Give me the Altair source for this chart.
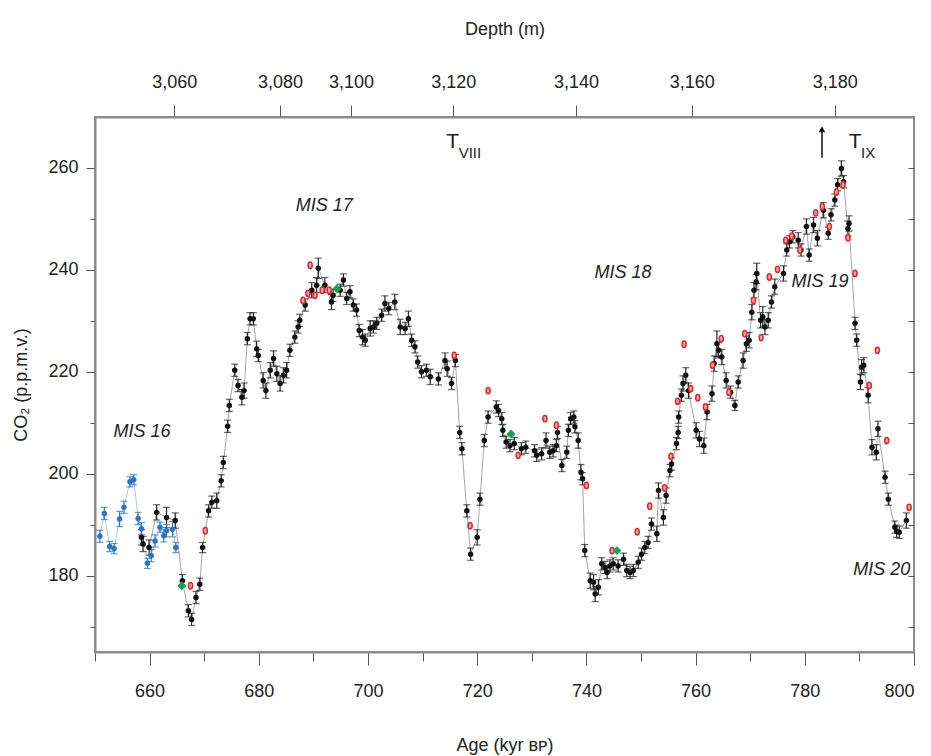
import altair as alt
import pandas as pd

# ---------------- data ----------------
# black: main CO2 record (age kyr BP, CO2 ppmv, 1-sigma)
black_points = [
    (658.5, 187.5, 1.5), (658.8, 186.2, 1.5), (659.9, 185.5, 1.5), (661.3, 192.4, 1.5),
    (663.1, 191.4, 2.0), (664.7, 190.8, 1.5), (666.0, 179.0, 1.2), (667.1, 173.1, 1.2),
    (667.7, 171.4, 1.2), (668.5, 175.7, 1.2), (669.2, 178.3, 1.2), (669.7, 185.5, 1.0),
    (670.8, 192.7, 1.2), (671.4, 194.4, 1.2), (672.3, 194.7, 1.5), (673.1, 198.6, 1.2),
    (673.5, 202.2, 1.2), (674.3, 209.3, 1.2), (674.6, 213.4, 1.2), (675.6, 220.3, 1.2),
    (676.2, 217.3, 1.2), (676.9, 215.0, 1.5), (677.3, 216.3, 1.5), (677.9, 226.5, 1.2),
    (678.4, 230.4, 1.2), (679.0, 230.4, 1.2), (679.6, 224.5, 1.5), (679.9, 223.2, 1.2),
    (680.8, 218.3, 1.5), (681.3, 216.3, 1.5), (682.1, 220.3, 1.5), (682.7, 222.6, 1.5),
    (683.3, 219.6, 1.5), (683.9, 217.7, 1.5), (684.5, 219.3, 1.5), (685.1, 220.3, 1.5),
    (685.7, 224.2, 1.2), (686.6, 226.8, 1.2), (687.2, 228.8, 1.2), (687.5, 230.1, 1.2),
    (688.5, 233.1, 1.2), (689.7, 236.0, 1.5), (690.6, 237.0, 1.5), (690.9, 240.3, 2.0),
    (692.1, 237.0, 1.5), (693.3, 233.7, 1.5), (693.6, 235.0, 1.2), (694.9, 236.0, 1.2),
    (695.5, 238.0, 1.2), (696.1, 234.4, 1.2), (696.7, 235.7, 1.2), (697.3, 233.1, 1.2),
    (697.9, 232.1, 1.2), (698.4, 228.1, 1.2), (699.0, 226.8, 1.5), (699.5, 226.2, 1.2),
    (700.4, 228.5, 1.5), (701.0, 228.8, 1.2), (701.6, 229.5, 1.2), (702.5, 231.1, 1.2),
    (703.1, 233.4, 1.5), (703.8, 232.4, 1.2), (704.9, 233.7, 1.5), (705.9, 228.8, 1.5),
    (706.8, 228.5, 1.2), (707.4, 230.4, 1.5), (708.0, 226.2, 1.2), (708.6, 224.9, 1.2),
    (709.1, 221.9, 1.2), (709.8, 220.0, 1.2), (710.7, 220.3, 1.2), (711.4, 219.0, 1.5),
    (712.9, 218.6, 1.2), (714.1, 222.2, 1.5), (714.5, 220.6, 1.5), (715.3, 217.7, 1.2),
    (716.0, 222.2, 1.2), (716.8, 208.1, 1.2), (717.2, 204.9, 1.2), (718.1, 192.7, 1.2),
    (718.8, 184.2, 1.2), (720.0, 187.5, 1.5), (720.5, 195.0, 1.2), (721.3, 206.5, 1.2),
    (722.0, 211.1, 1.2), (723.5, 213.1, 1.2), (723.9, 212.4, 1.2), (724.5, 210.8, 1.2),
    (724.7, 208.5, 1.2), (725.3, 206.2, 1.2), (726.0, 205.5, 1.2), (726.8, 205.9, 1.2),
    (728.1, 204.9, 1.2), (728.9, 205.2, 1.2), (730.5, 204.5, 1.2), (730.9, 203.6, 1.2),
    (731.8, 203.9, 1.2), (732.6, 206.5, 1.5), (733.3, 204.2, 1.2), (733.9, 204.5, 1.2),
    (734.5, 205.5, 1.2), (734.7, 208.1, 1.2), (735.5, 201.6, 1.2), (736.4, 204.2, 1.2),
    (736.7, 208.5, 1.2), (737.1, 210.8, 1.2), (737.7, 211.1, 1.2), (737.9, 209.2, 1.2),
    (738.5, 206.5, 1.5), (739.0, 200.3, 1.5), (739.3, 199.0, 1.2), (739.7, 184.9, 1.2),
    (740.7, 179.0, 1.5), (741.3, 178.7, 1.5), (741.6, 176.4, 1.5), (742.2, 177.7, 1.5),
    (742.8, 182.3, 1.2), (743.4, 181.6, 1.2), (743.8, 180.6, 1.2), (744.3, 181.9, 1.2),
    (744.9, 182.3, 1.2), (745.8, 181.9, 1.2), (746.8, 183.2, 1.2), (747.4, 181.0, 1.2),
    (748.0, 180.6, 1.2), (748.6, 181.0, 1.2), (749.5, 182.6, 1.2), (750.1, 184.2, 1.2),
    (750.7, 185.5, 1.2), (751.3, 186.5, 1.2), (751.9, 190.1, 1.2), (752.9, 188.2, 1.5),
    (753.2, 196.7, 1.5), (754.1, 191.4, 1.5), (754.6, 195.7, 1.5), (755.3, 200.6, 1.2),
    (755.6, 201.9, 1.2), (756.5, 205.9, 1.2), (756.8, 208.1, 1.2), (756.9, 211.1, 1.2),
    (757.4, 215.4, 1.2), (757.7, 217.7, 1.5), (758.2, 219.3, 1.5), (758.7, 216.3, 1.5),
    (760.1, 208.5, 1.5), (760.7, 206.8, 1.5), (761.5, 205.5, 1.5), (762.1, 212.1, 1.5),
    (763.0, 215.7, 1.5), (763.4, 221.6, 1.5), (763.9, 225.5, 2.5), (764.2, 224.2, 1.5),
    (764.8, 222.9, 1.5), (765.6, 218.3, 1.5), (766.4, 216.0, 1.2), (767.2, 213.4, 1.0),
    (767.8, 218.0, 1.2), (768.7, 222.2, 1.5), (769.3, 225.5, 1.5), (769.8, 226.2, 1.5),
    (770.3, 231.7, 1.5), (770.7, 236.0, 1.5), (771.1, 237.6, 1.5), (771.2, 239.3, 2.0),
    (771.9, 230.1, 1.5), (772.3, 230.8, 2.0), (772.7, 228.8, 1.5), (773.3, 230.1, 1.5),
    (773.9, 233.7, 1.2), (774.5, 236.7, 1.5), (776.1, 239.3, 1.5), (776.7, 243.9, 1.2),
    (777.2, 245.5, 1.2), (777.8, 246.5, 1.2), (778.8, 245.8, 1.5), (779.3, 243.9, 1.2),
    (780.3, 248.5, 1.5), (780.8, 242.9, 1.2), (781.6, 248.8, 1.5), (782.3, 246.2, 1.5),
    (783.4, 251.7, 1.5), (784.3, 247.2, 1.2), (784.8, 250.8, 1.2), (785.5, 253.7, 1.2),
    (786.0, 256.7, 1.2), (786.7, 259.9, 1.5), (787.1, 257.3, 1.2), (787.9, 248.1, 1.5),
    (788.1, 249.1, 1.5), (789.2, 229.5, 1.2), (789.5, 226.2, 1.2), (790.2, 218.0, 1.5),
    (790.4, 220.9, 1.5), (790.8, 221.3, 1.5), (791.6, 215.4, 1.5), (792.3, 205.2, 1.5),
    (793.1, 204.2, 1.5), (793.4, 208.8, 1.5), (794.7, 199.3, 1.2), (795.3, 195.0, 1.2),
    (796.5, 189.5, 1.2), (796.8, 188.7, 1.2), (797.3, 188.5, 1.2), (798.6, 190.8, 1.5),
]

# blue: earlier measurements (MIS 16)
blue_points = [
    (650.9, 187.7, 1.2), (651.7, 192.2, 1.2), (652.7, 185.7, 1.0), (653.5, 185.3, 1.0),
    (654.5, 191.1, 1.5), (655.3, 193.4, 1.2), (656.4, 198.4, 1.0), (657.1, 198.8, 1.0),
    (657.9, 191.2, 1.2), (658.5, 189.2, 1.2), (659.6, 182.4, 1.0), (660.3, 183.9, 1.2),
    (661.0, 186.8, 1.2), (661.9, 189.5, 1.0), (662.6, 187.8, 1.2), (663.1, 188.8, 1.2),
    (664.2, 189.1, 1.5), (664.8, 185.5, 1.0),
]

# red: other lab measurements
red_points = [
    (667.5, 178.0), (670.2, 188.8), (688.1, 234.0), (689.0, 235.4), (689.4, 240.9),
    (690.3, 235.0), (691.6, 236.0), (692.9, 236.0), (715.8, 223.2), (718.7, 189.8),
    (722.0, 216.3), (727.5, 203.6), (732.4, 210.8), (734.5, 209.5), (740.0, 197.7),
    (744.7, 184.9), (749.3, 188.6), (751.6, 193.6), (754.3, 197.2), (755.5, 203.4),
    (756.7, 214.2), (757.9, 225.4), (759.1, 216.7), (760.4, 214.9), (761.8, 213.1),
    (763.1, 221.3), (764.7, 226.5), (766.1, 216.0), (769.0, 227.5), (770.6, 234.0),
    (772.0, 226.7), (773.5, 238.6), (775.0, 240.1), (776.5, 245.8), (777.6, 246.6),
    (779.1, 243.9), (782.0, 251.2), (783.2, 252.4), (784.5, 248.5), (785.8, 255.3),
    (787.0, 256.7), (787.9, 246.3), (789.2, 239.3), (791.8, 217.3), (793.3, 224.2),
    (795.0, 206.5), (799.1, 193.4),
]

# green diamonds
green_points = [(665.9, 178.0), (694.3, 236.3), (726.2, 207.8), (745.6, 184.9)]

# annotations
mis_labels = ["MIS 16", "MIS 17", "MIS 18", "MIS 19", "MIS 20"]
mis_age = [658.6, 692.0, 746.7, 782.8, 794.1]
mis_co2 = [208.1, 252.5, 239.4, 237.6, 181.0]

term_main = ["T", "T"]
term_sub = ["VIII", "IX"]
term_age = [715.5, 789.2]
term_co2 = [265.1, 265.1]

arrow_age = 783.15
arrow_co2 = [262.0, 267.6]

# depth axis (top): depth labels and the age at which each sits
depth_labels = ["3,060", "3,080", "3,100", "3,120", "3,140", "3,160", "3,180"]
depth_age = [664.5, 683.9, 696.9, 715.6, 738.1, 759.3, 785.5]

x_domain = [650, 800]
y_domain = [165, 270]

# ---------------- frames ----------------
def frame(points, cols):
    return pd.DataFrame(points, columns=cols)

blk = frame(black_points, ["age", "co2", "err"])
blk["lo"] = blk.co2 - blk.err
blk["hi"] = blk.co2 + blk.err
blu = frame(blue_points, ["age", "co2", "err"])
blu["lo"] = blu.co2 - blu.err
blu["hi"] = blu.co2 + blu.err
red = frame(red_points, ["age", "co2"])
grn = frame(green_points, ["age", "co2"])
mis = pd.DataFrame({"label": mis_labels, "age": mis_age, "co2": mis_co2})
term = pd.DataFrame({"main": term_main, "sub": term_sub, "age": term_age, "co2": term_co2})
arrow = pd.DataFrame({"age": [arrow_age], "y0": [arrow_co2[0]], "y1": [arrow_co2[1]]})
depth = pd.DataFrame({"age": depth_age, "label": depth_labels})

FONT = "Liberation Sans, Arial, sans-serif"
AXC = "#8c8c8c"
TICKC = "#555555"

xs = alt.Scale(domain=x_domain, nice=False, zero=False)
ys = alt.Scale(domain=y_domain, nice=False, zero=False)

x_axis = alt.Axis(
    values=list(range(650, 801, 10)),
    labelExpr="datum.value % 20 == 0 && datum.value > 650 ? datum.label : ''",
    tickSize={"condition": {"test": "datum.value % 20 == 0", "value": 13}, "value": 9},
    labelPadding=17, title="Age (kyr ʙᴘ)", titlePadding=36, grid=False,
)
y_axis = alt.Axis(
    values=list(range(170, 270, 10)),
    labelExpr="datum.value % 20 == 0 ? datum.label : ''",
    tickSize={"condition": {"test": "datum.value % 20 == 0", "value": 9}, "value": 5},
    labelPadding=8, title="CO₂ (p.p.m.v.)", titlePadding=17, grid=False,
)

X = alt.X("age:Q", scale=xs, axis=x_axis)
Y = alt.Y("co2:Q", scale=ys, axis=y_axis)

line_blk = alt.Chart(blk).mark_line(color="#9a9a9a", strokeWidth=0.9).encode(x=X, y=Y)
line_blu = alt.Chart(blu).mark_line(color="#a9c2e6", strokeWidth=0.9).encode(x=X, y=Y)

def errbars(df, color):
    rule = alt.Chart(df).mark_rule(color=color, strokeWidth=1.2).encode(
        x=X, y=alt.Y("lo:Q", scale=ys, axis=y_axis), y2="hi:Q")
    cap_lo = alt.Chart(df).mark_tick(color=color, orient="horizontal", size=7, thickness=1.2).encode(
        x=X, y=alt.Y("lo:Q", scale=ys, axis=y_axis))
    cap_hi = alt.Chart(df).mark_tick(color=color, orient="horizontal", size=7, thickness=1.2).encode(
        x=X, y=alt.Y("hi:Q", scale=ys, axis=y_axis))
    return rule + cap_lo + cap_hi

pts_blk = alt.Chart(blk).mark_point(shape="circle", filled=True, color="#111111", size=30, opacity=1).encode(x=X, y=Y)
pts_blu = alt.Chart(blu).mark_point(shape="circle", filled=True, color="#2a74c4", size=30, opacity=1).encode(x=X, y=Y)

ellipse = "M0,-1A0.65,1 0 1,1 0,1A0.65,1 0 1,1 0,-1Z"
pts_red = alt.Chart(red).mark_point(shape=ellipse, filled=True, fill="#f6a3a3", stroke="#e3262b",
                                    strokeWidth=1.5, size=40, opacity=1).encode(x=X, y=Y)
pts_grn = alt.Chart(grn).mark_point(shape="diamond", filled=True, color="#17a356", size=80, opacity=1).encode(x=X, y=Y)

mis_text = alt.Chart(mis).mark_text(font=FONT, fontSize=18, fontStyle="italic", color="#222222").encode(
    x=X, y=Y, text="label:N")
t_main = alt.Chart(term).mark_text(font=FONT, fontSize=21, color="#222222").encode(x=X, y=Y, text="main:N")
t_sub = alt.Chart(term).mark_text(font=FONT, fontSize=15, color="#222222", align="left", dx=6, dy=11).encode(
    x=X, y=Y, text="sub:N")

arrow_line = alt.Chart(arrow).mark_rule(color="#111111", strokeWidth=1.5).encode(
    x=X, y=alt.Y("y0:Q", scale=ys, axis=y_axis), y2="y1:Q")
arrow_head = alt.Chart(arrow).mark_point(shape="triangle-up", filled=True, color="#111111", size=45, opacity=1).encode(
    x=X, y=alt.Y("y1:Q", scale=ys, axis=y_axis))

main = alt.layer(
    line_blk, line_blu,
    errbars(blk, "#222222"), errbars(blu, "#2a74c4"),
    pts_blk, pts_blu, pts_red, pts_grn,
    mis_text, t_main, t_sub, arrow_line, arrow_head,
)

depth_expr = ""
for i, lab in enumerate(depth_labels[:-1]):
    mid = (depth_age[i] + depth_age[i + 1]) / 2
    depth_expr += f"datum.value < {mid:.2f} ? '{lab}' : "
depth_expr += f"'{depth_labels[-1]}'"

top_layer = alt.Chart(depth).mark_point(opacity=0).encode(
    x=alt.X("age:Q", scale=xs, axis=alt.Axis(
        orient="top", values=depth_age, labelExpr=depth_expr, tickSize=12,
        labelPadding=14, title="Depth (m)", titlePadding=35, grid=False)),
    y=alt.value(0),
)
right_layer = alt.Chart(blk).mark_point(opacity=0).encode(
    y=alt.Y("co2:Q", scale=ys, axis=alt.Axis(
        orient="right", values=list(range(170, 270, 10)), labels=False, tickSize=6,
        offset=-6, domain=False, title=None, grid=False)),
    x=alt.value(0),
)

chart = alt.layer(main, top_layer, right_layer).resolve_scale(
    x="independent", y="independent"
).properties(
    width=819, height=535,
    autosize=alt.AutoSizeParams(type="none"),
    padding={"left": 87, "top": 109, "right": 9, "bottom": 103},
).configure_view(
    stroke=AXC, strokeWidth=2
).configure_axis(
    domainColor=AXC, domainWidth=2, tickColor=TICKC, tickWidth=1,
    labelFont=FONT, labelFontSize=18, labelColor="#222222",
    titleFont=FONT, titleFontSize=18, titleFontWeight="normal", titleColor="#222222",
)

chart.save("out.html", embed_options={"renderer": "svg", "actions": False})
